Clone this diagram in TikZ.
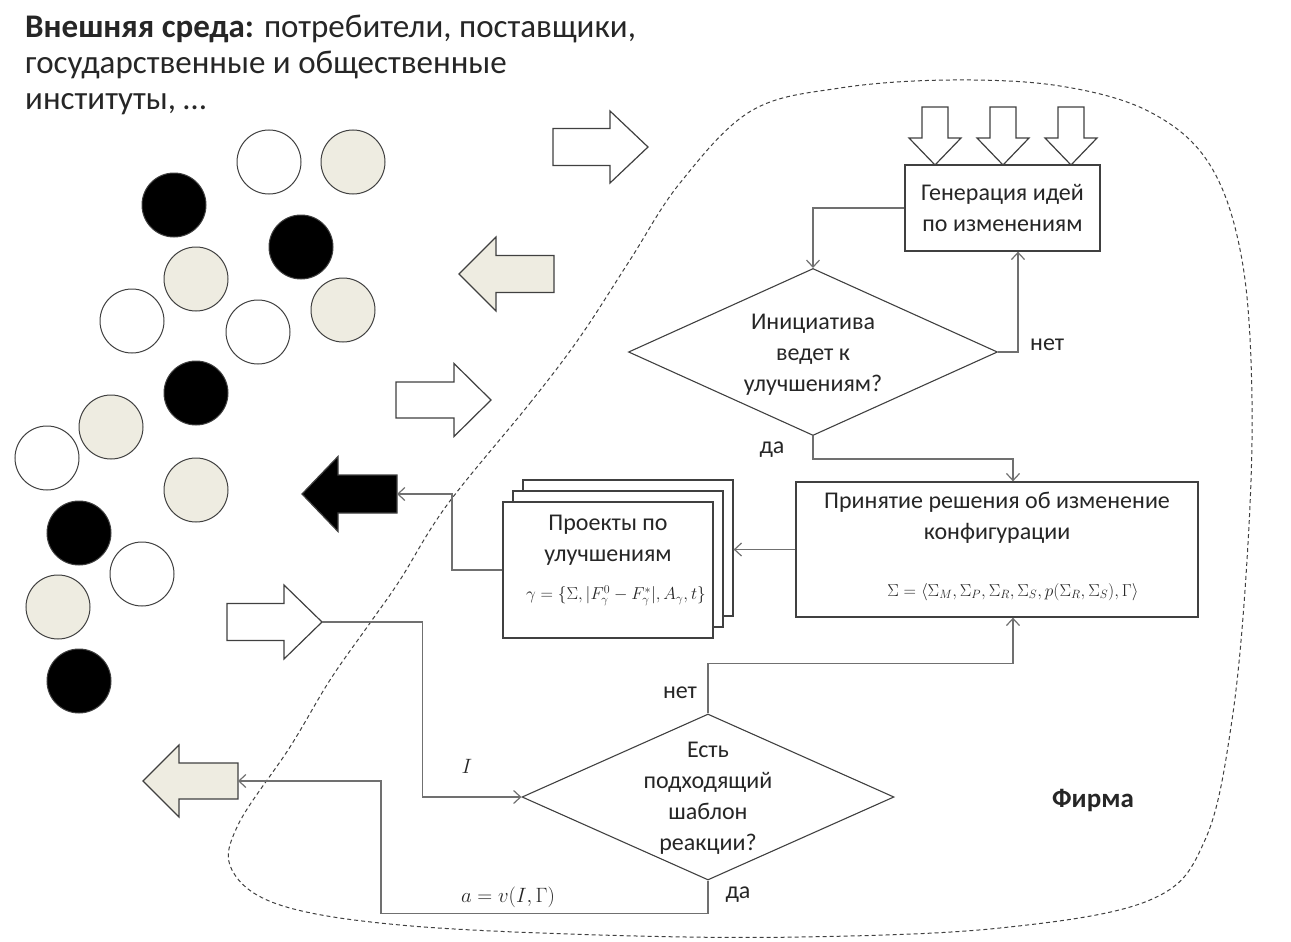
\documentclass[tikz,border=0pt]{standalone}
\usepackage{fontspec}
\setmainfont{Carlito}
\usetikzlibrary{arrows.meta,shapes.geometric,calc}
\definecolor{edge}{HTML}{404040}
\definecolor{wire}{HTML}{707070}
\definecolor{sand}{HTML}{EEECE1}
\definecolor{ink}{HTML}{262626}
% horizontal block arrow: style, tail x, head base x, tip x, centre y, shaft half, head half
\newcommand\harrow[7]{\draw[#1] (#2,#5-#6) -- (#3,#5-#6) -- (#3,#5-#7) -- (#4,#5)
  -- (#3,#5+#7) -- (#3,#5+#6) -- (#2,#5+#6) -- cycle;}
% downward block arrow: style, centre x, top y, head base y, tip y, shaft half, head half
\newcommand\varrow[7]{\draw[#1] (#2-#6,#3) -- (#2+#6,#3) -- (#2+#6,#4) -- (#2+#7,#4)
  -- (#2,#5) -- (#2-#7,#4) -- (#2-#6,#4) -- cycle;}
\begin{document}
\begin{tikzpicture}[x=1pt,y=-1pt,
  txt/.style={font=\fontsize{24}{31}\selectfont, text=ink, align=center, inner sep=0},
  mathtxt/.style={font=\fontsize{18}{22}\selectfont, text=ink, inner sep=0},
  box/.style={draw=edge, line width=1.3, fill=white, inner sep=0, txt},
  choice/.style={diamond, draw=edge, line width=1.1, inner sep=0, aspect=2.2},
  conn/.style={draw=wire, line width=1.2},
  flow/.style={conn, -{Straight Barb[length=7,width=13]}},
  blk/.style={draw=edge, line width=1.2, line join=miter},
  ball/.style={draw=edge, line width=1}]
\useasboundingbox (0,0) rectangle (1291,942);

% boundary of the firm
\draw[edge, line width=1, dash pattern=on 4 off 3]
  plot[smooth cycle, tension=0.6] coordinates {
  (447,505) (530,403) (580,337) (630,260) (680,183) (751,111) (840,88) (950,80)
  (1060,86) (1150,112) (1210,165) (1242,260) (1252,400) (1247,560) (1232,720)
  (1205,840) (1150,900) (1000,928) (800,937) (600,935) (400,925) (280,905)
  (232,870) (238,825) (290,747) (330,680) (370,623) (400,580)};

% external environment
\node[font=\fontsize{33}{36}\selectfont, text=ink, align=left, anchor=north west, inner sep=0]
  (env) at (25,15) {\textbf{Внешняя среда:} потребители, поставщики,\\государственные и общественные\\институты, …};

\foreach \p in {(269,162),(132,321),(258,332),(47,458),(142,574)}
  \draw[ball, fill=white] \p circle[radius=32];
\foreach \p in {(353,162),(196,279),(343,310),(111,427),(196,490),(58,607)}
  \draw[ball, fill=sand] \p circle[radius=32];
\foreach \p in {(174,205),(301,247),(196,393),(79,533),(79,681)}
  \draw[ball, fill=black] \p circle[radius=32];

% block arrows between environment and firm
\harrow{blk, fill=white}{553}{610}{648}{147}{18.5}{36}
\harrow{blk, fill=sand}{554}{496}{459}{274}{18.5}{37}
\harrow{blk, fill=white}{396}{454}{491}{400}{18}{36.5}
\harrow{blk, fill=black}{397}{338}{302}{494}{19}{37.5}
\harrow{blk, fill=white}{227}{284}{322}{622}{18.5}{37}
\harrow{blk, fill=sand}{238}{179}{143}{781}{18}{36}
\coordinate (blkT) at (397,494);
\coordinate (whtT) at (322,622);
\coordinate (sandT) at (238,781);

% idea generation
\foreach \cx in {935,1003,1071}
  \varrow{blk, fill=white}{\cx}{107}{138}{165}{13}{26}
\node[box, minimum width=195, minimum height=86] (gen) at (1002.5,208)
  {Генерация идей\\по изменениям};

% first decision
\node[choice, minimum width=369, minimum height=167] (d1) at (813,352) {};
\node[txt] (d1t) at (813,355) {Инициатива\\ведет к\\улучшениям?};
\node[txt, anchor=west] (d1no) at (1030,345) {нет};
\node[txt] (d1yes) at (772,450) {да};

% configuration decision
\node[box, minimum width=402, minimum height=135] (prin) at (997,549.5) {};
\node[txt] (print) at (997,518) {Принятие решения об изменение\\конфигурации};
\node[mathtxt] (sigma) at (1013,592)
  {$\Sigma=\bigl\langle\Sigma_M,\Sigma_P,\Sigma_R,\Sigma_S,p\bigl(\Sigma_R,\Sigma_S\bigr),\Gamma\bigr\rangle$};

% improvement projects
\node[box, minimum width=210, minimum height=136] (back) at (628,548) {};
\node[box, minimum width=210, minimum height=136] (mid) at (618,559) {};
\node[box, minimum width=210, minimum height=136] (front) at (608,570) {};
\node[txt] (projt) at (608,540) {Проекты по\\улучшениям};
\node[mathtxt, font=\fontsize{17}{21}\selectfont] (gamma) at (616,596)
  {$\gamma=\bigl\{\Sigma,\bigl|F_\gamma^0-F_\gamma^*\bigr|,A_\gamma,t\bigr\}$};

% second decision
\node[choice, minimum width=372, minimum height=166] (d2) at (708,797) {};
\node[txt] (d2t) at (708,798) {Есть\\подходящий\\шаблон\\реакции?};
\node[txt] (d2no) at (680,693) {нет};
\node[txt] (d2yes) at (738,895) {да};
\node[mathtxt, font=\fontsize{21}{25}\selectfont] (ilab) at (467,766) {$I$};
\node[mathtxt, font=\fontsize{21}{25}\selectfont] (alab) at (508,897) {$a=v\bigl(I,\Gamma\bigr)$};

\node[font=\bfseries\fontsize{27}{32}\selectfont, text=ink, inner sep=0] (firm) at (1093,800) {Фирма};

% connectors
\draw[flow] (gen.west) -| (d1.north);
\draw[flow] (d1.east) -| ([xshift=15.5]gen.south);
\draw[flow] (d1.south) -- ++(0,23) -| ([xshift=16]prin.north);
\draw[flow] (prin.west) -- (prin.west -| back.east);
\draw[flow] (front.west) -| ([xshift=55]blkT) -- (blkT);
\draw[flow] (whtT) -| ([xshift=-99]d2.west) -- (d2.west);
\draw[flow] (d2.south) -- ++(0,33) -| ([xshift=143]sandT) -- (sandT);
\draw[flow] (d2.north) -- ++(0,-50) -| ([xshift=16]prin.south);
\end{tikzpicture}
\end{document}
